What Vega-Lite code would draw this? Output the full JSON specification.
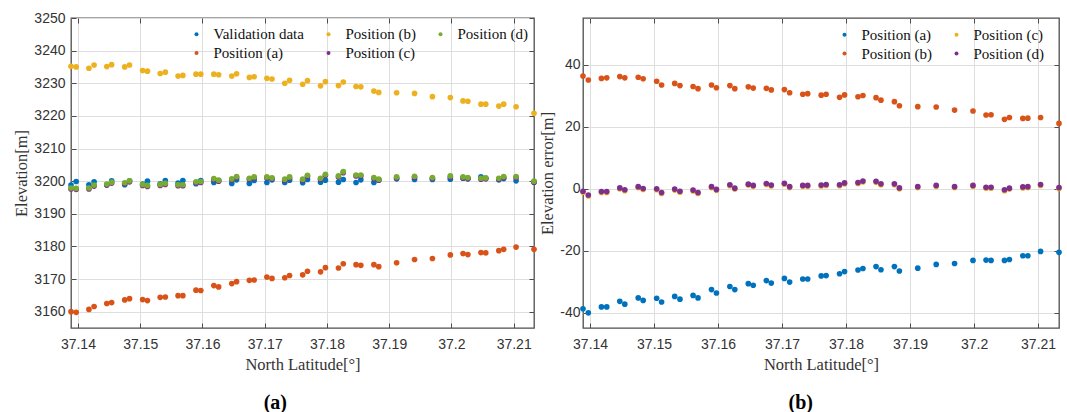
{
  "$schema": "https://vega.github.io/schema/vega-lite/v6.json",
  "autosize": {"type": "pad"},
  "padding": {"left": 13, "top": 10, "right": 5, "bottom": 2},
  "background": "white",
  "bounds": "flush",
  "spacing": 49,
  "config": {
    "view": {"stroke": "#4d4d4d", "strokeWidth": 1.3},
    "axis": {
      "labelFont": "Liberation Sans", "labelFontSize": 14, "labelColor": "#333333",
      "titleFont": "Liberation Serif", "titleFontSize": 16.5, "titleFontWeight": "normal", "titleColor": "#333333",
      "gridColor": "#dedede", "gridWidth": 1, "domain": false,
      "tickColor": "#4d4d4d", "tickSize": -5, "tickWidth": 1
    },
    "legend": {
      "labelFont": "Liberation Serif", "labelFontSize": 15, "labelColor": "#111111",
      "symbolType": "circle", "symbolSize": 16, "symbolStrokeWidth": 0, "labelOffset": 9.5,
      "columnPadding": 17, "rowPadding": 3, "padding": 0
    }
  },
  "datasets": {
    "left": [
      {"lat":37.13889,"series":"Validation data","elev":3198.8},{"lat":37.13972,"series":"Validation data","elev":3199.9},{"lat":37.14177,"series":"Validation data","elev":3198.9},{"lat":37.1426,"series":"Validation data","elev":3199.8},{"lat":37.14464,"series":"Validation data","elev":3198.9},{"lat":37.14542,"series":"Validation data","elev":3200.1},{"lat":37.14752,"series":"Validation data","elev":3198.9},{"lat":37.14829,"series":"Validation data","elev":3200.1},{"lat":37.1504,"series":"Validation data","elev":3199.1},{"lat":37.15117,"series":"Validation data","elev":3200.0},{"lat":37.15322,"series":"Validation data","elev":3199.2},{"lat":37.15404,"series":"Validation data","elev":3200.2},{"lat":37.15609,"series":"Validation data","elev":3199.4},{"lat":37.15686,"series":"Validation data","elev":3200.2},{"lat":37.15897,"series":"Validation data","elev":3199.2},{"lat":37.15974,"series":"Validation data","elev":3200.2},{"lat":37.16184,"series":"Validation data","elev":3199.6},{"lat":37.16261,"series":"Validation data","elev":3200.2},{"lat":37.16472,"series":"Validation data","elev":3199.3},{"lat":37.16549,"series":"Validation data","elev":3200.4},{"lat":37.16754,"series":"Validation data","elev":3199.3},{"lat":37.16831,"series":"Validation data","elev":3200.2},{"lat":37.17036,"series":"Validation data","elev":3199.6},{"lat":37.17118,"series":"Validation data","elev":3200.4},{"lat":37.17323,"series":"Validation data","elev":3199.6},{"lat":37.174,"series":"Validation data","elev":3200.3},{"lat":37.17611,"series":"Validation data","elev":3199.5},{"lat":37.17688,"series":"Validation data","elev":3200.5},{"lat":37.17898,"series":"Validation data","elev":3199.7},{"lat":37.17976,"series":"Validation data","elev":3200.3},{"lat":37.18186,"series":"Validation data","elev":3199.7},{"lat":37.18263,"series":"Validation data","elev":3200.5},{"lat":37.18468,"series":"Validation data","elev":3199.6},{"lat":37.18545,"series":"Validation data","elev":3200.4},{"lat":37.18755,"series":"Validation data","elev":3199.6},{"lat":37.18833,"series":"Validation data","elev":3200.4},{"lat":37.1912,"series":"Validation data","elev":3200.7},{"lat":37.19408,"series":"Validation data","elev":3200.5},{"lat":37.19695,"series":"Validation data","elev":3200.5},{"lat":37.19983,"series":"Validation data","elev":3200.6},{"lat":37.20187,"series":"Validation data","elev":3200.9},{"lat":37.20265,"series":"Validation data","elev":3200.7},{"lat":37.20475,"series":"Validation data","elev":3201.3},{"lat":37.20552,"series":"Validation data","elev":3200.9},{"lat":37.20762,"series":"Validation data","elev":3200.4},{"lat":37.2084,"series":"Validation data","elev":3200.8},{"lat":37.21039,"series":"Validation data","elev":3200.1},{"lat":37.21327,"series":"Validation data","elev":3199.7},
      {"lat":37.13889,"series":"Position (a)","elev":3160.0},{"lat":37.13972,"series":"Position (a)","elev":3159.8},{"lat":37.14177,"series":"Position (a)","elev":3160.7},{"lat":37.1426,"series":"Position (a)","elev":3161.6},{"lat":37.14464,"series":"Position (a)","elev":3162.5},{"lat":37.14542,"series":"Position (a)","elev":3162.8},{"lat":37.14752,"series":"Position (a)","elev":3163.6},{"lat":37.14829,"series":"Position (a)","elev":3164.0},{"lat":37.1504,"series":"Position (a)","elev":3163.7},{"lat":37.15117,"series":"Position (a)","elev":3163.4},{"lat":37.15322,"series":"Position (a)","elev":3164.4},{"lat":37.15404,"series":"Position (a)","elev":3164.5},{"lat":37.15609,"series":"Position (a)","elev":3164.9},{"lat":37.15686,"series":"Position (a)","elev":3164.9},{"lat":37.15897,"series":"Position (a)","elev":3166.6},{"lat":37.15974,"series":"Position (a)","elev":3166.5},{"lat":37.16184,"series":"Position (a)","elev":3168.0},{"lat":37.16261,"series":"Position (a)","elev":3167.6},{"lat":37.16472,"series":"Position (a)","elev":3168.6},{"lat":37.16549,"series":"Position (a)","elev":3169.2},{"lat":37.16754,"series":"Position (a)","elev":3169.6},{"lat":37.16831,"series":"Position (a)","elev":3169.7},{"lat":37.17036,"series":"Position (a)","elev":3170.6},{"lat":37.17118,"series":"Position (a)","elev":3170.2},{"lat":37.17323,"series":"Position (a)","elev":3170.4},{"lat":37.174,"series":"Position (a)","elev":3171.1},{"lat":37.17611,"series":"Position (a)","elev":3171.3},{"lat":37.17688,"series":"Position (a)","elev":3172.4},{"lat":37.17898,"series":"Position (a)","elev":3172.2},{"lat":37.17976,"series":"Position (a)","elev":3173.5},{"lat":37.18186,"series":"Position (a)","elev":3173.4},{"lat":37.18263,"series":"Position (a)","elev":3174.7},{"lat":37.18468,"series":"Position (a)","elev":3174.4},{"lat":37.18545,"series":"Position (a)","elev":3174.2},{"lat":37.18755,"series":"Position (a)","elev":3174.4},{"lat":37.18833,"series":"Position (a)","elev":3173.8},{"lat":37.1912,"series":"Position (a)","elev":3175.0},{"lat":37.19408,"series":"Position (a)","elev":3176.0},{"lat":37.19695,"series":"Position (a)","elev":3176.3},{"lat":37.19983,"series":"Position (a)","elev":3177.4},{"lat":37.20187,"series":"Position (a)","elev":3177.8},{"lat":37.20265,"series":"Position (a)","elev":3177.5},{"lat":37.20475,"series":"Position (a)","elev":3178.1},{"lat":37.20552,"series":"Position (a)","elev":3178.0},{"lat":37.20762,"series":"Position (a)","elev":3178.7},{"lat":37.2084,"series":"Position (a)","elev":3179.1},{"lat":37.21039,"series":"Position (a)","elev":3179.8},{"lat":37.21327,"series":"Position (a)","elev":3179.1},
      {"lat":37.13889,"series":"Position (b)","elev":3235.2},{"lat":37.13972,"series":"Position (b)","elev":3235.0},{"lat":37.14177,"series":"Position (b)","elev":3234.6},{"lat":37.1426,"series":"Position (b)","elev":3235.6},{"lat":37.14464,"series":"Position (b)","elev":3235.1},{"lat":37.14542,"series":"Position (b)","elev":3235.7},{"lat":37.14752,"series":"Position (b)","elev":3235.0},{"lat":37.14829,"series":"Position (b)","elev":3235.6},{"lat":37.1504,"series":"Position (b)","elev":3233.9},{"lat":37.15117,"series":"Position (b)","elev":3233.7},{"lat":37.15322,"series":"Position (b)","elev":3233.0},{"lat":37.15404,"series":"Position (b)","elev":3233.4},{"lat":37.15609,"series":"Position (b)","elev":3232.2},{"lat":37.15686,"series":"Position (b)","elev":3232.4},{"lat":37.15897,"series":"Position (b)","elev":3232.8},{"lat":37.15974,"series":"Position (b)","elev":3232.8},{"lat":37.16184,"series":"Position (b)","elev":3232.8},{"lat":37.16261,"series":"Position (b)","elev":3232.6},{"lat":37.16472,"series":"Position (b)","elev":3232.2},{"lat":37.16549,"series":"Position (b)","elev":3232.9},{"lat":37.16754,"series":"Position (b)","elev":3231.8},{"lat":37.16831,"series":"Position (b)","elev":3232.0},{"lat":37.17036,"series":"Position (b)","elev":3231.5},{"lat":37.17118,"series":"Position (b)","elev":3231.3},{"lat":37.17323,"series":"Position (b)","elev":3230.0},{"lat":37.174,"series":"Position (b)","elev":3230.9},{"lat":37.17611,"series":"Position (b)","elev":3229.7},{"lat":37.17688,"series":"Position (b)","elev":3230.8},{"lat":37.17898,"series":"Position (b)","elev":3229.2},{"lat":37.17976,"series":"Position (b)","elev":3230.5},{"lat":37.18186,"series":"Position (b)","elev":3229.3},{"lat":37.18263,"series":"Position (b)","elev":3230.4},{"lat":37.18468,"series":"Position (b)","elev":3229.0},{"lat":37.18545,"series":"Position (b)","elev":3228.9},{"lat":37.18755,"series":"Position (b)","elev":3227.6},{"lat":37.18833,"series":"Position (b)","elev":3227.2},{"lat":37.1912,"series":"Position (b)","elev":3227.1},{"lat":37.19408,"series":"Position (b)","elev":3226.9},{"lat":37.19695,"series":"Position (b)","elev":3225.9},{"lat":37.19983,"series":"Position (b)","elev":3225.6},{"lat":37.20187,"series":"Position (b)","elev":3224.6},{"lat":37.20265,"series":"Position (b)","elev":3224.5},{"lat":37.20475,"series":"Position (b)","elev":3223.6},{"lat":37.20552,"series":"Position (b)","elev":3223.6},{"lat":37.20762,"series":"Position (b)","elev":3223.0},{"lat":37.2084,"series":"Position (b)","elev":3223.6},{"lat":37.21039,"series":"Position (b)","elev":3222.8},{"lat":37.21327,"series":"Position (b)","elev":3220.8},
      {"lat":37.13889,"series":"Position (c)","elev":3197.6},{"lat":37.13972,"series":"Position (c)","elev":3197.5},{"lat":37.14177,"series":"Position (c)","elev":3197.6},{"lat":37.1426,"series":"Position (c)","elev":3198.5},{"lat":37.14464,"series":"Position (c)","elev":3198.8},{"lat":37.14542,"series":"Position (c)","elev":3199.4},{"lat":37.14752,"series":"Position (c)","elev":3199.2},{"lat":37.14829,"series":"Position (c)","elev":3199.8},{"lat":37.1504,"series":"Position (c)","elev":3198.7},{"lat":37.15117,"series":"Position (c)","elev":3198.4},{"lat":37.15322,"series":"Position (c)","elev":3198.7},{"lat":37.15404,"series":"Position (c)","elev":3199.0},{"lat":37.15609,"series":"Position (c)","elev":3198.6},{"lat":37.15686,"series":"Position (c)","elev":3198.6},{"lat":37.15897,"series":"Position (c)","elev":3199.5},{"lat":37.15974,"series":"Position (c)","elev":3199.6},{"lat":37.16184,"series":"Position (c)","elev":3200.5},{"lat":37.16261,"series":"Position (c)","elev":3200.0},{"lat":37.16472,"series":"Position (c)","elev":3200.4},{"lat":37.16549,"series":"Position (c)","elev":3201.1},{"lat":37.16754,"series":"Position (c)","elev":3200.6},{"lat":37.16831,"series":"Position (c)","elev":3201.0},{"lat":37.17036,"series":"Position (c)","elev":3201.0},{"lat":37.17118,"series":"Position (c)","elev":3200.7},{"lat":37.17323,"series":"Position (c)","elev":3200.3},{"lat":37.174,"series":"Position (c)","elev":3201.0},{"lat":37.17611,"series":"Position (c)","elev":3200.3},{"lat":37.17688,"series":"Position (c)","elev":3201.5},{"lat":37.17898,"series":"Position (c)","elev":3200.6},{"lat":37.17976,"series":"Position (c)","elev":3201.8},{"lat":37.18186,"series":"Position (c)","elev":3201.3},{"lat":37.18263,"series":"Position (c)","elev":3202.6},{"lat":37.18468,"series":"Position (c)","elev":3201.6},{"lat":37.18545,"series":"Position (c)","elev":3201.6},{"lat":37.18755,"series":"Position (c)","elev":3200.8},{"lat":37.18833,"series":"Position (c)","elev":3200.3},{"lat":37.1912,"series":"Position (c)","elev":3201.0},{"lat":37.19408,"series":"Position (c)","elev":3201.2},{"lat":37.19695,"series":"Position (c)","elev":3200.8},{"lat":37.19983,"series":"Position (c)","elev":3201.3},{"lat":37.20187,"series":"Position (c)","elev":3201.0},{"lat":37.20265,"series":"Position (c)","elev":3200.8},{"lat":37.20475,"series":"Position (c)","elev":3200.6},{"lat":37.20552,"series":"Position (c)","elev":3200.7},{"lat":37.20762,"series":"Position (c)","elev":3200.6},{"lat":37.2084,"series":"Position (c)","elev":3201.1},{"lat":37.21039,"series":"Position (c)","elev":3201.1},{"lat":37.21327,"series":"Position (c)","elev":3199.7},
      {"lat":37.13889,"series":"Position (d)","elev":3197.9},{"lat":37.13972,"series":"Position (d)","elev":3197.8},{"lat":37.14177,"series":"Position (d)","elev":3197.9},{"lat":37.1426,"series":"Position (d)","elev":3198.8},{"lat":37.14464,"series":"Position (d)","elev":3199.1},{"lat":37.14542,"series":"Position (d)","elev":3199.7},{"lat":37.14752,"series":"Position (d)","elev":3199.5},{"lat":37.14829,"series":"Position (d)","elev":3200.1},{"lat":37.1504,"series":"Position (d)","elev":3199.0},{"lat":37.15117,"series":"Position (d)","elev":3198.7},{"lat":37.15322,"series":"Position (d)","elev":3199.0},{"lat":37.15404,"series":"Position (d)","elev":3199.3},{"lat":37.15609,"series":"Position (d)","elev":3198.9},{"lat":37.15686,"series":"Position (d)","elev":3198.9},{"lat":37.15897,"series":"Position (d)","elev":3199.8},{"lat":37.15974,"series":"Position (d)","elev":3199.9},{"lat":37.16184,"series":"Position (d)","elev":3200.8},{"lat":37.16261,"series":"Position (d)","elev":3200.3},{"lat":37.16472,"series":"Position (d)","elev":3200.7},{"lat":37.16549,"series":"Position (d)","elev":3201.4},{"lat":37.16754,"series":"Position (d)","elev":3200.9},{"lat":37.16831,"series":"Position (d)","elev":3201.3},{"lat":37.17036,"series":"Position (d)","elev":3201.3},{"lat":37.17118,"series":"Position (d)","elev":3201.0},{"lat":37.17323,"series":"Position (d)","elev":3200.6},{"lat":37.174,"series":"Position (d)","elev":3201.3},{"lat":37.17611,"series":"Position (d)","elev":3200.6},{"lat":37.17688,"series":"Position (d)","elev":3201.8},{"lat":37.17898,"series":"Position (d)","elev":3200.9},{"lat":37.17976,"series":"Position (d)","elev":3202.1},{"lat":37.18186,"series":"Position (d)","elev":3201.6},{"lat":37.18263,"series":"Position (d)","elev":3202.9},{"lat":37.18468,"series":"Position (d)","elev":3201.9},{"lat":37.18545,"series":"Position (d)","elev":3201.9},{"lat":37.18755,"series":"Position (d)","elev":3201.1},{"lat":37.18833,"series":"Position (d)","elev":3200.6},{"lat":37.1912,"series":"Position (d)","elev":3201.3},{"lat":37.19408,"series":"Position (d)","elev":3201.5},{"lat":37.19695,"series":"Position (d)","elev":3201.1},{"lat":37.19983,"series":"Position (d)","elev":3201.6},{"lat":37.20187,"series":"Position (d)","elev":3201.3},{"lat":37.20265,"series":"Position (d)","elev":3201.1},{"lat":37.20475,"series":"Position (d)","elev":3200.9},{"lat":37.20552,"series":"Position (d)","elev":3201.0},{"lat":37.20762,"series":"Position (d)","elev":3200.9},{"lat":37.2084,"series":"Position (d)","elev":3201.4},{"lat":37.21039,"series":"Position (d)","elev":3201.4},{"lat":37.21327,"series":"Position (d)","elev":3200.0}
    ],
    "right": [
      {"lat":37.13889,"series":"Position (a)","err":-38.8},{"lat":37.13972,"series":"Position (a)","err":-40.1},{"lat":37.14177,"series":"Position (a)","err":-38.2},{"lat":37.1426,"series":"Position (a)","err":-38.2},{"lat":37.14464,"series":"Position (a)","err":-36.4},{"lat":37.14542,"series":"Position (a)","err":-37.3},{"lat":37.14752,"series":"Position (a)","err":-35.3},{"lat":37.14829,"series":"Position (a)","err":-36.1},{"lat":37.1504,"series":"Position (a)","err":-35.4},{"lat":37.15117,"series":"Position (a)","err":-36.6},{"lat":37.15322,"series":"Position (a)","err":-34.8},{"lat":37.15404,"series":"Position (a)","err":-35.7},{"lat":37.15609,"series":"Position (a)","err":-34.5},{"lat":37.15686,"series":"Position (a)","err":-35.3},{"lat":37.15897,"series":"Position (a)","err":-32.6},{"lat":37.15974,"series":"Position (a)","err":-33.7},{"lat":37.16184,"series":"Position (a)","err":-31.6},{"lat":37.16261,"series":"Position (a)","err":-32.6},{"lat":37.16472,"series":"Position (a)","err":-30.7},{"lat":37.16549,"series":"Position (a)","err":-31.2},{"lat":37.16754,"series":"Position (a)","err":-29.7},{"lat":37.16831,"series":"Position (a)","err":-30.5},{"lat":37.17036,"series":"Position (a)","err":-29.0},{"lat":37.17118,"series":"Position (a)","err":-30.2},{"lat":37.17323,"series":"Position (a)","err":-29.2},{"lat":37.174,"series":"Position (a)","err":-29.2},{"lat":37.17611,"series":"Position (a)","err":-28.2},{"lat":37.17688,"series":"Position (a)","err":-28.1},{"lat":37.17898,"series":"Position (a)","err":-27.5},{"lat":37.17976,"series":"Position (a)","err":-26.8},{"lat":37.18186,"series":"Position (a)","err":-26.3},{"lat":37.18263,"series":"Position (a)","err":-25.8},{"lat":37.18468,"series":"Position (a)","err":-25.2},{"lat":37.18545,"series":"Position (a)","err":-26.2},{"lat":37.18755,"series":"Position (a)","err":-25.2},{"lat":37.18833,"series":"Position (a)","err":-26.6},{"lat":37.1912,"series":"Position (a)","err":-25.7},{"lat":37.19408,"series":"Position (a)","err":-24.5},{"lat":37.19695,"series":"Position (a)","err":-24.2},{"lat":37.19983,"series":"Position (a)","err":-23.2},{"lat":37.20187,"series":"Position (a)","err":-23.1},{"lat":37.20265,"series":"Position (a)","err":-23.2},{"lat":37.20475,"series":"Position (a)","err":-23.2},{"lat":37.20552,"series":"Position (a)","err":-22.9},{"lat":37.20762,"series":"Position (a)","err":-21.7},{"lat":37.2084,"series":"Position (a)","err":-21.7},{"lat":37.21039,"series":"Position (a)","err":-20.3},{"lat":37.21327,"series":"Position (a)","err":-20.6},
      {"lat":37.13889,"series":"Position (b)","err":36.3},{"lat":37.13972,"series":"Position (b)","err":35.0},{"lat":37.14177,"series":"Position (b)","err":35.5},{"lat":37.1426,"series":"Position (b)","err":35.7},{"lat":37.14464,"series":"Position (b)","err":36.1},{"lat":37.14542,"series":"Position (b)","err":35.7},{"lat":37.14752,"series":"Position (b)","err":35.9},{"lat":37.14829,"series":"Position (b)","err":35.4},{"lat":37.1504,"series":"Position (b)","err":34.6},{"lat":37.15117,"series":"Position (b)","err":33.4},{"lat":37.15322,"series":"Position (b)","err":33.9},{"lat":37.15404,"series":"Position (b)","err":33.2},{"lat":37.15609,"series":"Position (b)","err":32.9},{"lat":37.15686,"series":"Position (b)","err":32.2},{"lat":37.15897,"series":"Position (b)","err":33.4},{"lat":37.15974,"series":"Position (b)","err":32.5},{"lat":37.16184,"series":"Position (b)","err":33.2},{"lat":37.16261,"series":"Position (b)","err":32.2},{"lat":37.16472,"series":"Position (b)","err":32.8},{"lat":37.16549,"series":"Position (b)","err":32.4},{"lat":37.16754,"series":"Position (b)","err":32.3},{"lat":37.16831,"series":"Position (b)","err":31.8},{"lat":37.17036,"series":"Position (b)","err":31.9},{"lat":37.17118,"series":"Position (b)","err":30.9},{"lat":37.17323,"series":"Position (b)","err":30.4},{"lat":37.174,"series":"Position (b)","err":30.6},{"lat":37.17611,"series":"Position (b)","err":30.1},{"lat":37.17688,"series":"Position (b)","err":30.4},{"lat":37.17898,"series":"Position (b)","err":29.4},{"lat":37.17976,"series":"Position (b)","err":30.2},{"lat":37.18186,"series":"Position (b)","err":29.6},{"lat":37.18263,"series":"Position (b)","err":30.0},{"lat":37.18468,"series":"Position (b)","err":29.3},{"lat":37.18545,"series":"Position (b)","err":28.5},{"lat":37.18755,"series":"Position (b)","err":28.0},{"lat":37.18833,"series":"Position (b)","err":26.7},{"lat":37.1912,"series":"Position (b)","err":26.4},{"lat":37.19408,"series":"Position (b)","err":26.3},{"lat":37.19695,"series":"Position (b)","err":25.3},{"lat":37.19983,"series":"Position (b)","err":25.0},{"lat":37.20187,"series":"Position (b)","err":23.7},{"lat":37.20265,"series":"Position (b)","err":23.8},{"lat":37.20475,"series":"Position (b)","err":22.3},{"lat":37.20552,"series":"Position (b)","err":22.9},{"lat":37.20762,"series":"Position (b)","err":22.6},{"lat":37.2084,"series":"Position (b)","err":22.7},{"lat":37.21039,"series":"Position (b)","err":22.9},{"lat":37.21327,"series":"Position (b)","err":21.0},
      {"lat":37.13889,"series":"Position (c)","err":-1.2},{"lat":37.13972,"series":"Position (c)","err":-2.4},{"lat":37.14177,"series":"Position (c)","err":-1.3},{"lat":37.1426,"series":"Position (c)","err":-1.3},{"lat":37.14464,"series":"Position (c)","err":-0.1},{"lat":37.14542,"series":"Position (c)","err":-0.7},{"lat":37.14752,"series":"Position (c)","err":0.3},{"lat":37.14829,"series":"Position (c)","err":-0.3},{"lat":37.1504,"series":"Position (c)","err":-0.4},{"lat":37.15117,"series":"Position (c)","err":-1.6},{"lat":37.15322,"series":"Position (c)","err":-0.5},{"lat":37.15404,"series":"Position (c)","err":-1.2},{"lat":37.15609,"series":"Position (c)","err":-0.8},{"lat":37.15686,"series":"Position (c)","err":-1.6},{"lat":37.15897,"series":"Position (c)","err":0.3},{"lat":37.15974,"series":"Position (c)","err":-0.6},{"lat":37.16184,"series":"Position (c)","err":0.9},{"lat":37.16261,"series":"Position (c)","err":-0.2},{"lat":37.16472,"series":"Position (c)","err":1.1},{"lat":37.16549,"series":"Position (c)","err":0.7},{"lat":37.16754,"series":"Position (c)","err":1.3},{"lat":37.16831,"series":"Position (c)","err":0.8},{"lat":37.17036,"series":"Position (c)","err":1.4},{"lat":37.17118,"series":"Position (c)","err":0.3},{"lat":37.17323,"series":"Position (c)","err":0.7},{"lat":37.174,"series":"Position (c)","err":0.7},{"lat":37.17611,"series":"Position (c)","err":0.8},{"lat":37.17688,"series":"Position (c)","err":1.0},{"lat":37.17898,"series":"Position (c)","err":0.9},{"lat":37.17976,"series":"Position (c)","err":1.5},{"lat":37.18186,"series":"Position (c)","err":1.6},{"lat":37.18263,"series":"Position (c)","err":2.1},{"lat":37.18468,"series":"Position (c)","err":2.0},{"lat":37.18545,"series":"Position (c)","err":1.2},{"lat":37.18755,"series":"Position (c)","err":1.2},{"lat":37.18833,"series":"Position (c)","err":-0.1},{"lat":37.1912,"series":"Position (c)","err":0.3},{"lat":37.19408,"series":"Position (c)","err":0.7},{"lat":37.19695,"series":"Position (c)","err":0.3},{"lat":37.19983,"series":"Position (c)","err":0.7},{"lat":37.20187,"series":"Position (c)","err":0.1},{"lat":37.20265,"series":"Position (c)","err":0.1},{"lat":37.20475,"series":"Position (c)","err":-0.7},{"lat":37.20552,"series":"Position (c)","err":-0.2},{"lat":37.20762,"series":"Position (c)","err":0.2},{"lat":37.2084,"series":"Position (c)","err":0.3},{"lat":37.21039,"series":"Position (c)","err":1.0},{"lat":37.21327,"series":"Position (c)","err":0.0},
      {"lat":37.13889,"series":"Position (d)","err":-0.9},{"lat":37.13972,"series":"Position (d)","err":-2.1},{"lat":37.14177,"series":"Position (d)","err":-1.0},{"lat":37.1426,"series":"Position (d)","err":-1.0},{"lat":37.14464,"series":"Position (d)","err":0.2},{"lat":37.14542,"series":"Position (d)","err":-0.4},{"lat":37.14752,"series":"Position (d)","err":0.6},{"lat":37.14829,"series":"Position (d)","err":0.0},{"lat":37.1504,"series":"Position (d)","err":-0.1},{"lat":37.15117,"series":"Position (d)","err":-1.3},{"lat":37.15322,"series":"Position (d)","err":-0.2},{"lat":37.15404,"series":"Position (d)","err":-0.9},{"lat":37.15609,"series":"Position (d)","err":-0.5},{"lat":37.15686,"series":"Position (d)","err":-1.3},{"lat":37.15897,"series":"Position (d)","err":0.6},{"lat":37.15974,"series":"Position (d)","err":-0.3},{"lat":37.16184,"series":"Position (d)","err":1.2},{"lat":37.16261,"series":"Position (d)","err":0.1},{"lat":37.16472,"series":"Position (d)","err":1.4},{"lat":37.16549,"series":"Position (d)","err":1.0},{"lat":37.16754,"series":"Position (d)","err":1.6},{"lat":37.16831,"series":"Position (d)","err":1.1},{"lat":37.17036,"series":"Position (d)","err":1.7},{"lat":37.17118,"series":"Position (d)","err":0.6},{"lat":37.17323,"series":"Position (d)","err":1.0},{"lat":37.174,"series":"Position (d)","err":1.0},{"lat":37.17611,"series":"Position (d)","err":1.1},{"lat":37.17688,"series":"Position (d)","err":1.3},{"lat":37.17898,"series":"Position (d)","err":1.2},{"lat":37.17976,"series":"Position (d)","err":1.8},{"lat":37.18186,"series":"Position (d)","err":1.9},{"lat":37.18263,"series":"Position (d)","err":2.4},{"lat":37.18468,"series":"Position (d)","err":2.3},{"lat":37.18545,"series":"Position (d)","err":1.5},{"lat":37.18755,"series":"Position (d)","err":1.5},{"lat":37.18833,"series":"Position (d)","err":0.2},{"lat":37.1912,"series":"Position (d)","err":0.6},{"lat":37.19408,"series":"Position (d)","err":1.0},{"lat":37.19695,"series":"Position (d)","err":0.6},{"lat":37.19983,"series":"Position (d)","err":1.0},{"lat":37.20187,"series":"Position (d)","err":0.4},{"lat":37.20265,"series":"Position (d)","err":0.4},{"lat":37.20475,"series":"Position (d)","err":-0.4},{"lat":37.20552,"series":"Position (d)","err":0.1},{"lat":37.20762,"series":"Position (d)","err":0.5},{"lat":37.2084,"series":"Position (d)","err":0.6},{"lat":37.21039,"series":"Position (d)","err":1.3},{"lat":37.21327,"series":"Position (d)","err":0.3}
    ]
  },
  "hconcat": [
    {
      "width": 463, "height": 310,
      "data": {"name": "left"},
      "title": {"text": "(a)", "orient": "bottom", "frame": "bounds", "anchor": "middle", "font": "Liberation Serif", "fontSize": 20, "fontWeight": "bold", "color": "#000000", "offset": 20},
      "resolve": {"axis": {"x": "independent", "y": "independent"}},
      "layer": [
        {
          "mark": {"type": "point", "filled": true, "size": 32, "opacity": 1},
          "encoding": {
            "x": {"field": "lat", "type": "quantitative", "scale": {"domain": [37.13889, 37.21327], "nice": false, "zero": false},
                  "axis": {"title": "North Latitude[°]", "values": [37.14, 37.15, 37.16, 37.17, 37.18, 37.19, 37.2, 37.21], "format": "~g", "labelPadding": 14, "titlePadding": 5}},
            "y": {"field": "elev", "type": "quantitative", "scale": {"domain": [3155, 3250], "nice": false, "zero": false},
                  "axis": {"title": "Elevation[m]", "values": [3160, 3170, 3180, 3190, 3200, 3210, 3220, 3230, 3240, 3250], "format": "d", "labelPadding": 11, "titlePadding": 4}},
            "color": {"field": "series", "type": "nominal",
                      "scale": {"domain": ["Validation data", "Position (a)", "Position (b)", "Position (c)", "Position (d)"], "range": ["#0072BD", "#D95319", "#EDB120", "#7E2F8E", "#77AC30"]},
                      "legend": {"title": null, "orient": "none", "legendX": 118, "legendY": 8.5, "columns": 3}}
          }
        },
        {
          "mark": {"type": "point", "filled": true, "size": 32, "opacity": 0},
          "encoding": {
            "x": {"field": "lat", "type": "quantitative", "axis": {"orient": "top", "title": null, "labels": false, "grid": false, "values": [37.14, 37.15, 37.16, 37.17, 37.18, 37.19, 37.2, 37.21]}},
            "y": {"field": "elev", "type": "quantitative", "axis": {"orient": "right", "title": null, "labels": false, "grid": false, "values": [3160, 3170, 3180, 3190, 3200, 3210, 3220, 3230, 3240, 3250]}}
          }
        }
      ]
    },
    {
      "width": 476, "height": 310,
      "data": {"name": "right"},
      "title": {"text": "(b)", "orient": "bottom", "frame": "bounds", "anchor": "middle", "font": "Liberation Serif", "fontSize": 20, "fontWeight": "bold", "color": "#000000", "offset": 20},
      "resolve": {"axis": {"x": "independent", "y": "independent"}},
      "layer": [
        {
          "mark": {"type": "point", "filled": true, "size": 32, "opacity": 1},
          "encoding": {
            "x": {"field": "lat", "type": "quantitative", "scale": {"domain": [37.13889, 37.21327], "nice": false, "zero": false},
                  "axis": {"title": "North Latitude[°]", "values": [37.14, 37.15, 37.16, 37.17, 37.18, 37.19, 37.2, 37.21], "format": "~g", "labelPadding": 14, "titlePadding": 5}},
            "y": {"field": "err", "type": "quantitative", "scale": {"domain": [-45, 55], "nice": false, "zero": false},
                  "axis": {"title": "Elevation error[m]", "values": [-40, -20, 0, 20, 40], "labelExpr": "'' + datum.value", "labelPadding": 8, "titlePadding": 4}},
            "color": {"field": "series", "type": "nominal",
                      "scale": {"domain": ["Position (a)", "Position (b)", "Position (c)", "Position (d)"], "range": ["#0072BD", "#D95319", "#EDB120", "#7E2F8E"]},
                      "legend": {"title": null, "orient": "none", "legendX": 254, "legendY": 9, "columns": 2}}
          }
        },
        {
          "mark": {"type": "point", "filled": true, "size": 32, "opacity": 0},
          "encoding": {
            "x": {"field": "lat", "type": "quantitative", "axis": {"orient": "top", "title": null, "labels": false, "grid": false, "values": [37.14, 37.15, 37.16, 37.17, 37.18, 37.19, 37.2, 37.21]}},
            "y": {"field": "err", "type": "quantitative", "axis": {"orient": "right", "title": null, "labels": false, "grid": false, "values": [-40, -20, 0, 20, 40]}}
          }
        }
      ]
    }
  ],
  "resolve": {"scale": {"color": "independent"}, "legend": {"color": "independent"}}
}
